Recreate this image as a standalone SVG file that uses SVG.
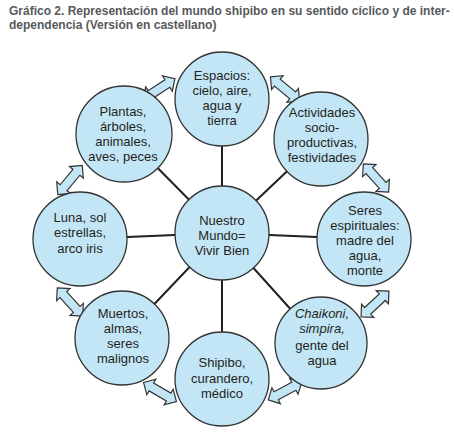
<svg xmlns="http://www.w3.org/2000/svg" width="454" height="438" viewBox="0 0 454 438">
<defs>
<style>
.t{font-family:"Liberation Sans",Arial,sans-serif;font-size:13px;fill:#231f20;text-anchor:middle}
.i{font-style:italic}
.h{font-family:"Liberation Sans",Arial,sans-serif;font-size:12px;font-weight:bold;fill:#58595b}
.n{fill:#c3e6f6;stroke:#333;stroke-width:1.3}
.c{stroke:#231f20;stroke-width:2;fill:none}
.a{fill:#c3e6f6;stroke:#333;stroke-width:1.2;stroke-linejoin:miter}
</style>
<polygon id="dbl" points="-19,0 -10,-9 -10,-4.5 10,-4.5 10,-9 19,0 10,9 10,4.5 -10,4.5 -10,9"/>
</defs>
<rect width="454" height="438" fill="#fff"/>
<text class="h" x="9" y="15">Gráfico 2. Representación del mundo shipibo en su sentido cíclico y de inter-</text>
<text class="h" x="9" y="29">dependencia (Versión en castellano)</text>
<g id="connectors">
<line class="c" x1="222" y1="233" x2="222" y2="99"/>
<line class="c" x1="222" y1="233" x2="124" y2="134"/>
<line class="c" x1="222" y1="233" x2="321" y2="139"/>
<line class="c" x1="222" y1="233" x2="80" y2="239"/>
<line class="c" x1="222" y1="233" x2="364" y2="239"/>
<line class="c" x1="222" y1="233" x2="122" y2="338"/>
<line class="c" x1="222" y1="233" x2="321" y2="343"/>
<line class="c" x1="222" y1="233" x2="222" y2="379"/>
</g>
<g id="arrows">
<use href="#dbl" class="a" transform="translate(159,89) rotate(-33)"/>
<use href="#dbl" class="a" transform="translate(285,89) rotate(40)"/>
<use href="#dbl" class="a" transform="translate(376,178) rotate(48)"/>
<use href="#dbl" class="a" transform="translate(375,304) rotate(-43)"/>
<use href="#dbl" class="a" transform="translate(285,391) rotate(-28)"/>
<use href="#dbl" class="a" transform="translate(160,392) rotate(30)"/>
<use href="#dbl" class="a" transform="translate(70,302) rotate(48)"/>
<use href="#dbl" class="a" transform="translate(70,180) rotate(-50)"/>
</g>
<g id="center">
<circle class="n" cx="222" cy="233" r="47"/>
<text class="t" x="222" y="225">Nuestro</text>
<text class="t" x="222" y="240">Mundo=</text>
<text class="t" x="222" y="255">Vivir Bien</text>
</g>
<g id="espacios">
<circle class="n" cx="222" cy="99" r="47"/>
<text class="t" x="222" y="80">Espacios:</text>
<text class="t" x="222" y="95">cielo, aire,</text>
<text class="t" x="222" y="110">agua y</text>
<text class="t" x="222" y="125">tierra</text>
</g>
<g id="plantas">
<circle class="n" cx="124" cy="134" r="48"/>
<text class="t" x="123" y="116">Plantas,</text>
<text class="t" x="123" y="131">árboles,</text>
<text class="t" x="123" y="146">animales,</text>
<text class="t" x="123" y="161">aves, peces</text>
</g>
<g id="actividades">
<circle class="n" cx="321" cy="139" r="47"/>
<text class="t" x="322" y="117">Actividades</text>
<text class="t" x="322" y="132">socio-</text>
<text class="t" x="322" y="147">productivas,</text>
<text class="t" x="322" y="162">festividades</text>
</g>
<g id="luna">
<circle class="n" cx="80" cy="239" r="47"/>
<text class="t" x="80" y="222">Luna, sol</text>
<text class="t" x="80" y="237">estrellas,</text>
<text class="t" x="80" y="253">arco iris</text>
</g>
<g id="seres">
<circle class="n" cx="364" cy="239" r="47"/>
<text class="t" x="365" y="215">Seres</text>
<text class="t" x="365" y="230">espirituales:</text>
<text class="t" x="365" y="245">madre del</text>
<text class="t" x="365" y="260">agua,</text>
<text class="t" x="365" y="275">monte</text>
</g>
<g id="muertos">
<circle class="n" cx="122" cy="338" r="47"/>
<text class="t" x="123" y="318">Muertos,</text>
<text class="t" x="123" y="333">almas,</text>
<text class="t" x="123" y="348">seres</text>
<text class="t" x="123" y="363">malignos</text>
</g>
<g id="chaikoni">
<circle class="n" cx="321" cy="343" r="46"/>
<text class="t i" x="322" y="318">Chaikoni,</text>
<text class="t i" x="322" y="333">simpira,</text>
<text class="t" x="322" y="350">gente del</text>
<text class="t" x="322" y="365">agua</text>
</g>
<g id="shipibo">
<circle class="n" cx="222" cy="379" r="47"/>
<text class="t" x="222" y="367">Shipibo,</text>
<text class="t" x="222" y="383">curandero,</text>
<text class="t" x="222" y="398">médico</text>
</g>
</svg>
